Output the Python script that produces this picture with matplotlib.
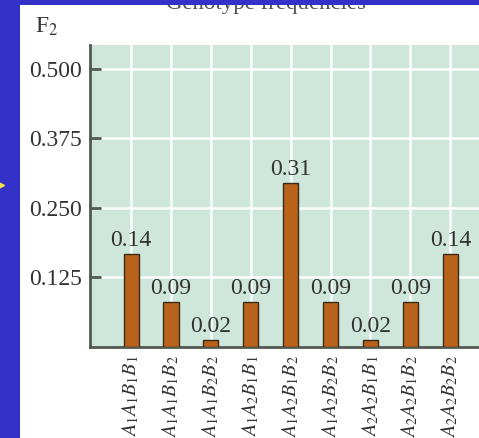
import matplotlib
matplotlib.use("Agg")
import matplotlib.pyplot as plt
from matplotlib.patches import Rectangle

# genotype classes and the bar heights as drawn, plus the printed labels
genotypes = ["A_1A_1B_1B_1", "A_1A_1B_1B_2", "A_1A_1B_2B_2",
             "A_1A_2B_1B_1", "A_1A_2B_1B_2", "A_1A_2B_2B_2",
             "A_2A_2B_1B_1", "A_2A_2B_1B_2", "A_2A_2B_2B_2"]
heights = [0.167, 0.081, 0.013, 0.081, 0.295, 0.081, 0.013, 0.081, 0.167]
value_labels = ["0.14", "0.09", "0.02", "0.09", "0.31", "0.09", "0.02", "0.09", "0.14"]
yticks = [0.125, 0.250, 0.375, 0.500]

plt.rcParams["font.family"] = ["Liberation Serif", "DejaVu Serif"]
plt.rcParams["mathtext.fontset"] = "stix"

W, H = 479, 438
fig = plt.figure(figsize=(W / 100, H / 100), dpi=100, facecolor="#3232c8")

# white slide panel
fig.patches.append(Rectangle((20 / W, 0), 1, (H - 5) / H, transform=fig.transFigure,
                             facecolor="white", edgecolor="none", zorder=-2))
# clipped title peeking out at the top
fig.text(266 / W, (H - 14) / H, "Genotype frequencies", ha="center", va="bottom",
         fontsize=16.5, color="#555555", zorder=1)
fig.patches.append(Rectangle((0, (H - 5) / H), 1, 5 / H, transform=fig.transFigure,
                             facecolor="#3232c8", edgecolor="none", zorder=2))
fig.patches.append(Rectangle((0, 0), 20 / W, 1, transform=fig.transFigure,
                             facecolor="#3232c8", edgecolor="none", zorder=2))
# little yellow arrow tip on the left edge
fig.lines.append(plt.Line2D([1 / W], [(H - 185) / H], transform=fig.transFigure,
                            marker=">", color="#f0e040", markersize=4, zorder=3))

ax = fig.add_axes([90 / W, (H - 347) / H, (W - 90) / W, (347 - 45) / H])
ax.set_facecolor("#cfe6da")

x = list(range(len(genotypes)))
bars = ax.bar(x, heights, width=0.38, color="#b8621c", edgecolor="#3a2a18",
              linewidth=1.0, zorder=3)
for b, lab in zip(bars, value_labels):
    ax.annotate(lab, (b.get_x() + b.get_width() / 2, b.get_height()),
                xytext=(0, 2), textcoords="offset points",
                ha="center", va="bottom", fontsize=17, color="#333333")

ax.set_xlim(-1.03, 8.72)
ax.set_ylim(0, 0.543)
ax.set_yticks(yticks)
ax.set_yticklabels([f"{v:.3f}" for v in yticks])
ax.set_xticks(x)
ax.set_xticklabels([f"${g}$" for g in genotypes], rotation=90, fontsize=14.5)

ax.grid(True, color="white", linewidth=1.8, alpha=0.9, zorder=1)
ax.set_axisbelow(True)
ax.tick_params(axis="y", direction="in", length=8, width=2, color="#505a50",
               labelsize=17, labelcolor="#333333", pad=6)
ax.tick_params(axis="x", length=0, pad=6, labelcolor="#333333")
for side in ["top", "right"]:
    ax.spines[side].set_visible(False)
for side in ["left", "bottom"]:
    ax.spines[side].set_color("#505a50")
    ax.spines[side].set_linewidth(2)

fig.text(35 / W, (H - 33) / H, "F$_2$", fontsize=17, color="#333333",
         ha="left", va="baseline")

fig.savefig("out.png", dpi=100, facecolor=fig.get_facecolor())
